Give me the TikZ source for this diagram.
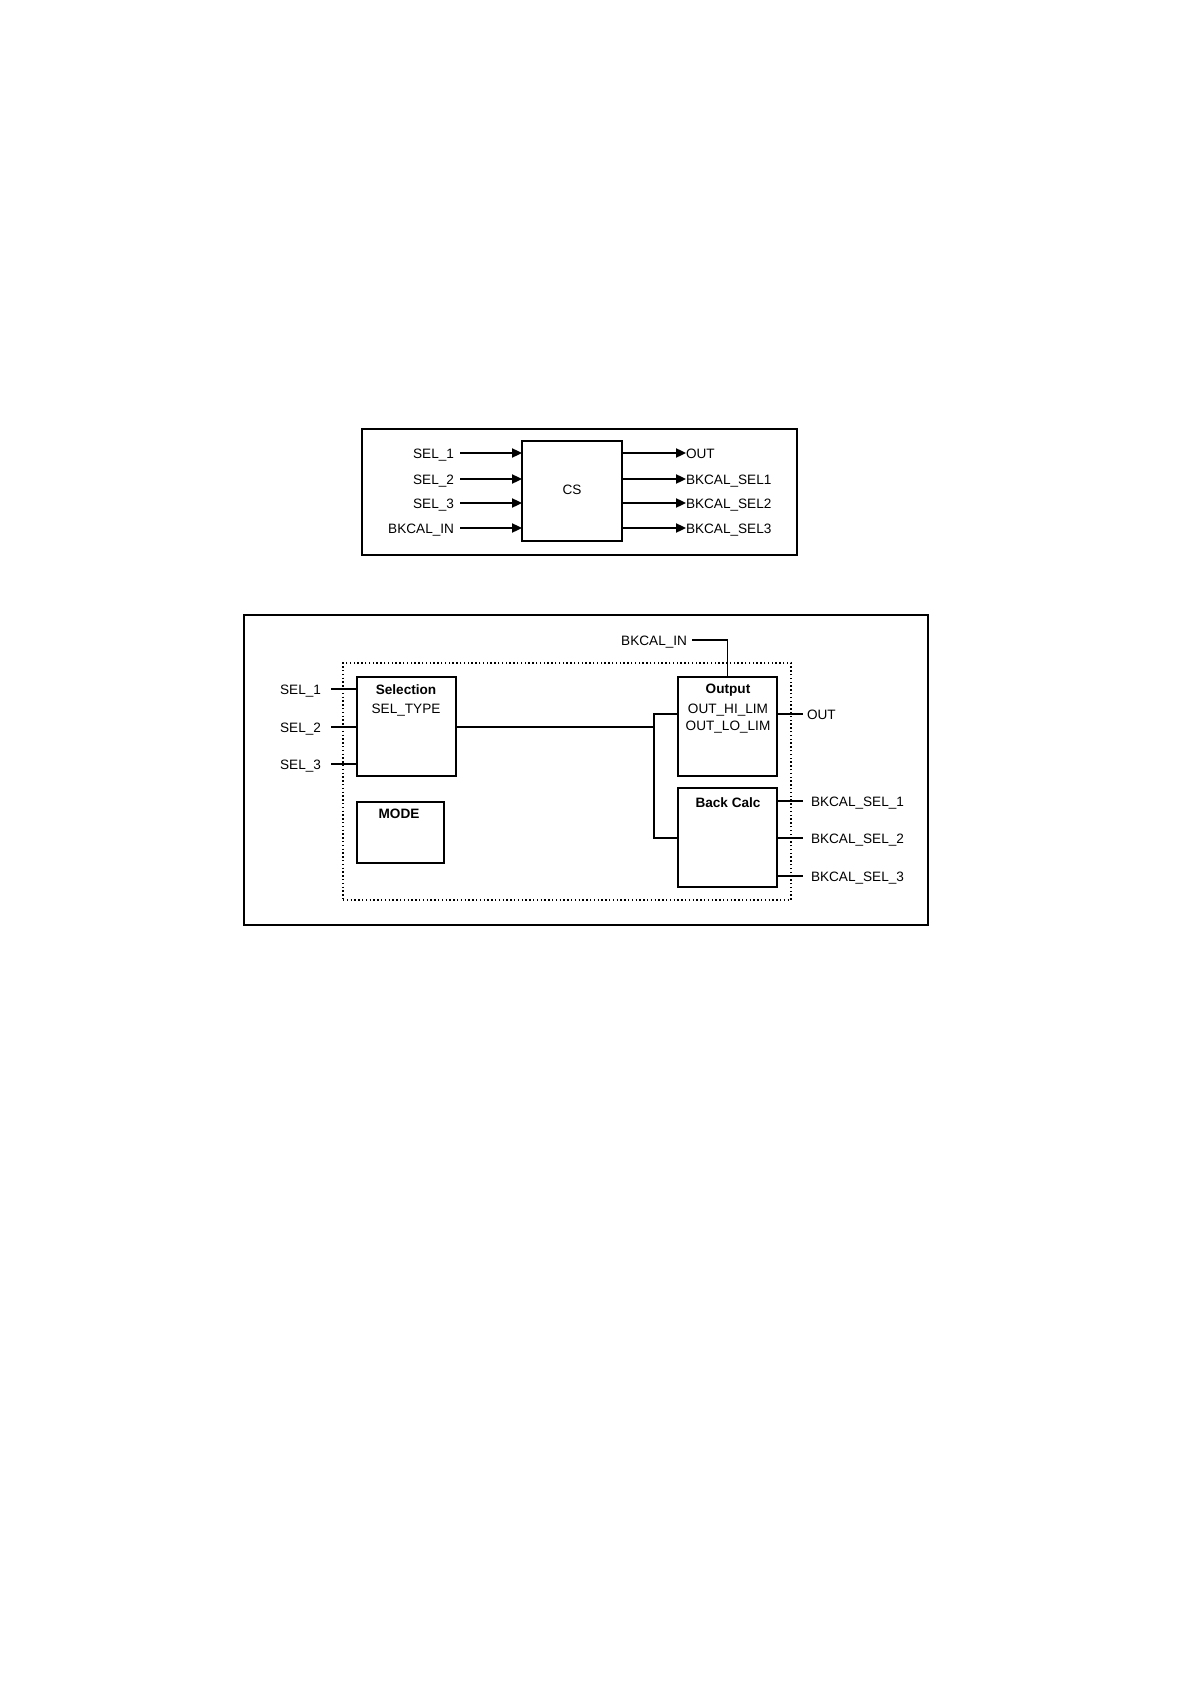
\documentclass[tikz,border=0pt]{standalone}
\usepackage{fontspec}
\setmainfont{Liberation Sans}
\usetikzlibrary{arrows.meta}
\begin{document}
\begin{tikzpicture}[x=0.5pt,y=-0.5pt,
  every node/.style={font=\fontsize{6.8}{8}\selectfont, inner sep=0pt, outer sep=0pt},
  frame/.style={draw, line width=0.9pt},
  box/.style={draw, line width=0.8pt},
  wire/.style={line width=0.8pt},
  arr/.style={wire,-{Triangle[length=5pt,width=4.6pt]}},
  lbl/.style={anchor=mid east},
  rlbl/.style={anchor=mid west},
  hd/.style={font=\fontsize{6.8}{8}\selectfont\bfseries},
  dotbox/.style={draw, line width=0.8pt, dash pattern=on 0.7pt off 1.2pt},
  ]
\useasboundingbox (0,0) rectangle (1191,1684);
\fill[white] (0,0) rectangle (1191,1684);

% ---------- top diagram ----------
\node[frame, minimum width=217.5pt, minimum height=63pt] (topframe) at (579.5,492) {};
\node[box, minimum width=50pt, minimum height=50pt] (cs) at (572,491) {};
\node (cst) at (572,490) {CS};

\node[lbl] (a1) at (454,453) {SEL\_1};
\node[lbl] (a2) at (454,479) {SEL\_2};
\node[lbl] (a3) at (454,503) {SEL\_3};
\node[lbl] (a4) at (454,528) {BKCAL\_IN};
\foreach \n in {a1,a2,a3,a4}
  \draw[arr] ([xshift=3pt]\n.mid east) -- (cs.west |- \n.mid east);

\node[rlbl] (b1) at (686,453) {OUT};
\node[rlbl] (b2) at (686,479) {BKCAL\_SEL1};
\node[rlbl] (b3) at (686,503) {BKCAL\_SEL2};
\node[rlbl] (b4) at (686,528) {BKCAL\_SEL3};
\foreach \n in {b1,b2,b3,b4}
  \draw[arr] (cs.east |- \n.mid west) -- (\n.mid west);

% ---------- bottom diagram ----------
\node[frame, minimum width=342pt, minimum height=155pt] (botframe) at (586,770) {};
\node[dotbox, minimum width=224pt, minimum height=118.5pt] (dots) at (567,781.5) {};

\node[box, minimum width=49.5pt, minimum height=49.5pt] (sel) at (406.5,726.5) {};
\node[hd] (selt) at (406,690) {Selection};
\node (selty) at (406,710) {SEL\_TYPE};

\node[box, minimum width=43.5pt, minimum height=30.5pt] (mode) at (400.5,832.5) {};
\node[hd] (modet) at (399,814) {MODE};

\node[box, minimum width=49.5pt, minimum height=49.5pt] (outb) at (727.5,726.5) {};
\node[hd] (outt) at (728,690) {Output};
\node (hi) at (728,710) {OUT\_HI\_LIM};
\node (lo) at (728,727) {OUT\_LO\_LIM};

\node[box, minimum width=49.5pt, minimum height=49.5pt] (bc) at (727.5,837.5) {};
\node[hd] (bct) at (728,803) {Back Calc};

% inputs
\node[lbl] (s1) at (321,689) {SEL\_1};
\node[lbl] (s2) at (321,727) {SEL\_2};
\node[lbl] (s3) at (321,764) {SEL\_3};
\foreach \n in {s1,s2,s3}
  \draw[wire] ([xshift=5pt]\n.mid east) -- (sel.west |- \n.mid east);

% internal wiring
\coordinate (j0) at (654,727);
\coordinate (jt) at (654,714);
\coordinate (jb) at (654,838);
\draw[wire] (sel.east |- j0) -- (j0);
\draw[wire] (outb.west |- jt) -- (jt) -- (jb) -- (bc.west |- jb);

% BKCAL_IN
\node[lbl] (bin) at (687,640) {BKCAL\_IN};
\draw[wire] ([xshift=2.5pt]bin.mid east) -| (outb.north);

% outputs
\node[rlbl] (o) at (807,714) {OUT};
\draw[wire] (outb.east |- o.mid west) -- ([xshift=-2pt]o.mid west);

\node[rlbl] (k1) at (811,801) {BKCAL\_SEL\_1};
\node[rlbl] (k2) at (811,838) {BKCAL\_SEL\_2};
\node[rlbl] (k3) at (811,876) {BKCAL\_SEL\_3};
\foreach \n in {k1,k2,k3}
  \draw[wire] (bc.east |- \n.mid west) -- ([xshift=-4pt]\n.mid west);
\end{tikzpicture}
\end{document}
